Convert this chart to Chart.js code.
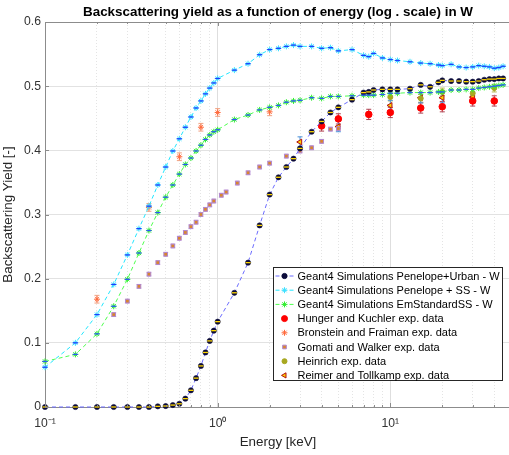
<!DOCTYPE html>
<html>
<head>
<meta charset="utf-8">
<script src="https://cdn.jsdelivr.net/npm/chart.js@4.4.1/dist/chart.umd.min.js"></script>
<style>
  html, body { margin: 0; padding: 0; background: #fff; overflow: hidden; }
  #wrap { width: 520px; height: 455px; }
</style>
</head>
<body>
<div id="wrap"><canvas id="yieldChart" width="520" height="455"></canvas></div>
<script>
// energies [keV] used by the three Geant4 simulations
const simEnergy = [0.1, 0.15, 0.2, 0.25, 0.3, 0.35, 0.4, 0.45, 0.5, 0.55, 0.6, 0.65, 0.7, 0.75, 0.8, 0.85, 0.9, 0.95, 1,
  1.25, 1.5, 1.75, 2, 2.25, 2.5, 2.75, 3, 3.5, 4, 4.5, 5, 6, 7, 7.5, 8, 9, 10,
  11, 13, 15, 17, 19, 20, 22.5, 25, 27.5, 30, 32.5, 35, 37.5, 40, 42.5, 45];

const penUrban = [0, 0, 0, 0, 0, 0, 0, 0.001, 0.0015, 0.003, 0.005, 0.013, 0.026, 0.045, 0.064, 0.085, 0.103, 0.119, 0.133,
  0.178, 0.225, 0.283, 0.331, 0.358, 0.374, 0.387, 0.403, 0.429, 0.445, 0.459, 0.467, 0.479, 0.490, 0.491, 0.494, 0.495, 0.495,
  0.495, 0.496, 0.502, 0.499, 0.506, 0.509, 0.508, 0.508, 0.507, 0.507, 0.508, 0.510, 0.511, 0.511, 0.512, 0.512];

const penSS = [0.062, 0.100, 0.144, 0.191, 0.237, 0.278, 0.313, 0.346, 0.374, 0.399, 0.418, 0.436, 0.452, 0.466, 0.477, 0.488, 0.497, 0.505, 0.512,
  0.525, 0.535, 0.549, 0.557, 0.559, 0.562, 0.564, 0.562, 0.562, 0.559, 0.560, 0.555, 0.557, 0.548, 0.546, 0.551, 0.544, 0.5415,
  0.540, 0.538, 0.536, 0.535, 0.533, 0.532, 0.534, 0.530, 0.529, 0.530, 0.532, 0.531, 0.530, 0.528, 0.529, 0.531];

const emStdSS = [0.071, 0.082, 0.114, 0.157, 0.199, 0.240, 0.275, 0.303, 0.327, 0.346, 0.363, 0.378, 0.388, 0.399, 0.408, 0.417, 0.424, 0.429, 0.432,
  0.448, 0.455, 0.463, 0.467, 0.470, 0.475, 0.477, 0.478, 0.482, 0.481, 0.484, 0.484, 0.485, 0.486, 0.486, 0.486, 0.487, 0.489,
  0.489, 0.490, 0.490, 0.490, 0.491, 0.491, 0.494, 0.494, 0.495, 0.495, 0.497, 0.498, 0.499, 0.500, 0.501, 0.502];

// experimental data
const hungerE = [4, 5, 7.5, 10, 15, 20, 30, 40];
const hungerY = [0.438, 0.449, 0.456, 0.459, 0.466, 0.468, 0.477, 0.477];
const hungerErr = [0.008, 0.008, 0.008, 0.008, 0.008, 0.008, 0.008, 0.008];

const bronsteinE = [0.2, 0.4, 0.6, 0.8, 1, 2];
const bronsteinY = [0.168, 0.311, 0.390, 0.436, 0.459, 0.460];
const bronsteinErr = [0.006, 0.006, 0.006, 0.006, 0.006, 0.006];

const gomatiE = [0.25, 0.3, 0.35, 0.4, 0.45, 0.5, 0.55, 0.6, 0.65, 0.7, 0.75, 0.8, 0.85, 0.9, 0.95,
  1.05, 1.12, 1.3, 1.5, 1.75, 2, 2.5, 3, 3.5, 4, 4.5, 5];
const gomatiY = [0.144, 0.165, 0.188, 0.207, 0.225, 0.238, 0.251, 0.263, 0.272, 0.281, 0.288, 0.300, 0.308, 0.315, 0.321,
  0.330, 0.335, 0.349, 0.365, 0.374, 0.380, 0.391, 0.399, 0.404, 0.414, 0.433, 0.434];
const gomatiErr = [0.003, 0.003, 0.003, 0.003, 0.003, 0.003, 0.003, 0.003, 0.003, 0.003, 0.003, 0.003, 0.003, 0.003, 0.003,
  0.003, 0.003, 0.003, 0.003, 0.003, 0.003, 0.003, 0.003, 0.003, 0.003, 0.003, 0.003];

const heinrichE = [10, 15, 20, 30, 40];
const heinrichY = [0.483, 0.481, 0.491, 0.489, 0.497];
const heinrichErr = [0.006, 0.006, 0.006, 0.006, 0.006];

const reimerE = [3, 5, 10, 15, 20, 30];
const reimerY = [0.413, 0.437, 0.470, 0.482, 0.482, 0.483];
const reimerErr = [0.008, 0.008, 0.008, 0.008, 0.008, 0.008];

// axis ticks
const xGridTicks = [0.1, 0.2, 0.3, 0.4, 0.5, 0.6, 0.7, 0.8, 0.9, 1, 2, 3, 4, 5, 6, 7, 8, 9, 10, 20, 30, 40, 50];
const xTickLabels = { 0.1: '10\u207B\u00B9', 1: '10\u2070', 10: '10\u00B9' };
const yTicks = [0, 0.1, 0.2, 0.3, 0.4, 0.5, 0.6];

const titleText = 'Backscattering yield as a function of energy (log . scale) in W';
const FONT = '"Liberation Sans", Arial, Helvetica, sans-serif';

function pairs(xs, ys) {
  return xs.map(function(x, i) { return { x: x, y: ys[i] }; });
}

function isDecade(v) {
  if (!v) return false;
  const l = Math.log10(v);
  return Math.abs(l - Math.round(l)) < 1e-6;
}

// error bars, point dashes, box, title and the in-plot legend
const overlayPlugin = {
  id: 'overlay',
  beforeDatasetsDraw(chart) {
    const ctx = chart.ctx;
    const xs = chart.scales.x, ys = chart.scales.y;
    chart.data.datasets.forEach(function(ds) {
      if (!ds.errors) return;
      ctx.save();
      ctx.strokeStyle = ds.errorColor;
      ctx.lineWidth = 1;
      ds.data.forEach(function(p, i) {
        const px = xs.getPixelForValue(p.x);
        const y1 = ys.getPixelForValue(p.y - ds.errors[i]);
        const y2 = ys.getPixelForValue(p.y + ds.errors[i]);
        ctx.beginPath();
        ctx.moveTo(px, y1); ctx.lineTo(px, y2);
        ctx.moveTo(px - 2.5, y1); ctx.lineTo(px + 2.5, y1);
        ctx.moveTo(px - 2.5, y2); ctx.lineTo(px + 2.5, y2);
        ctx.stroke();
      });
      ctx.restore();
    });
  },
  afterDatasetsDraw(chart) {
    const ctx = chart.ctx;
    const xs = chart.scales.x, ys = chart.scales.y;
    chart.data.datasets.forEach(function(ds) {
      if (!ds.dashColor) return;
      ctx.save();
      ctx.strokeStyle = ds.dashColor;
      ctx.lineWidth = 1.3;
      ds.data.forEach(function(p) {
        const px = xs.getPixelForValue(p.x), py = ys.getPixelForValue(p.y);
        ctx.beginPath();
        ctx.moveTo(px - 2.5, py); ctx.lineTo(px + 2.5, py);
        ctx.stroke();
      });
      ctx.restore();
    });
  },
  afterDraw(chart) {
    const ctx = chart.ctx;
    const area = chart.chartArea;
    const xs = chart.scales.x, ys = chart.scales.y;

    ctx.save();
    // top border and inward ticks
    ctx.strokeStyle = '#8c8c8c';
    ctx.lineWidth = 1;
    ctx.beginPath();
    ctx.moveTo(area.left, area.top + 0.5); ctx.lineTo(area.right, area.top + 0.5);
    yTicks.forEach(function(v) {
      const py = Math.round(ys.getPixelForValue(v)) + 0.5;
      ctx.moveTo(area.left, py); ctx.lineTo(area.left + 4, py);
    });
    xGridTicks.forEach(function(v) {
      const px = Math.round(xs.getPixelForValue(v)) + 0.5;
      const len = isDecade(v) ? 4 : 2;
      ctx.moveTo(px, area.bottom); ctx.lineTo(px, area.bottom - len);
      ctx.moveTo(px, area.top); ctx.lineTo(px, area.top + len);
    });
    ctx.stroke();

    // title
    ctx.fillStyle = '#000';
    ctx.font = 'bold 13.4px ' + FONT;
    ctx.textAlign = 'center';
    ctx.textBaseline = 'middle';
    ctx.fillText(titleText, (area.left + area.right) / 2, 12);

    // legend
    const bx = 273.5, by = 267.5, bw = 229, bh = 113;
    ctx.fillStyle = '#fff';
    ctx.fillRect(bx, by, bw, bh);
    ctx.strokeStyle = '#262626';
    ctx.lineWidth = 1;
    ctx.strokeRect(bx, by, bw, bh);
    ctx.font = '11px ' + FONT;
    ctx.textAlign = 'left';
    chart.data.datasets.forEach(function(ds, i) {
      const cy = by + 8.5 + i * 14.2;
      const mx = bx + 11;
      if (ds.showLine !== false) {
        ctx.save();
        ctx.strokeStyle = ds.borderColor;
        ctx.lineWidth = 1;
        ctx.setLineDash(ds.borderDash || []);
        ctx.beginPath();
        ctx.moveTo(bx + 2, cy); ctx.lineTo(bx + 20, cy);
        ctx.stroke();
        ctx.restore();
      }
      ctx.save();
      ctx.fillStyle = ds.pointBackgroundColor;
      ctx.strokeStyle = ds.pointBorderColor;
      Chart.helpers.drawPoint(ctx, {
        pointStyle: ds.pointStyle,
        radius: Math.min(ds.pointRadius, 3),
        rotation: ds.pointRotation || 0,
        borderWidth: ds.pointBorderWidth
      }, mx, cy);
      ctx.restore();
      ctx.fillStyle = '#000';
      ctx.fillText(ds.label, bx + 24, cy + 0.5);
    });
    ctx.restore();
  }
};

function createYieldChart() {
  const simStyle = {
    showLine: true,
    borderWidth: 1,
    borderDash: [4, 3],
    pointBorderWidth: 1,
    clip: false
  };
  const expStyle = {
    showLine: false,
    pointBorderWidth: 1,
    clip: false
  };

  const datasets = [
    Object.assign({}, simStyle, {
      label: 'Geant4 Simulations Penelope+Urban - W',
      data: pairs(simEnergy, penUrban),
      borderColor: '#6b6bff',
      pointStyle: 'circle',
      pointRadius: 2.6,
      pointBorderWidth: 0.6,
      pointBackgroundColor: '#0b0b3a',
      pointBorderColor: '#0b0b3a',
      dashColor: '#ffd800'
    }),
    Object.assign({}, simStyle, {
      label: 'Geant4 Simulations Penelope + SS - W',
      data: pairs(simEnergy, penSS),
      borderColor: '#22e6ff',
      pointStyle: 'star',
      pointRadius: 3,
      pointBackgroundColor: '#3ee0ff',
      pointBorderColor: '#3ee0ff',
      dashColor: '#1f3cff'
    }),
    Object.assign({}, simStyle, {
      label: 'Geant4 Simulations EmStandardSS - W',
      data: pairs(simEnergy, emStdSS),
      borderColor: '#4dff4d',
      pointStyle: 'star',
      pointRadius: 3,
      pointBackgroundColor: '#33ee33',
      pointBorderColor: '#33ee33',
      dashColor: '#2f55ff'
    }),
    Object.assign({}, expStyle, {
      label: 'Hunger and Kuchler exp. data',
      data: pairs(hungerE, hungerY),
      errors: hungerErr,
      errorColor: '#b04050',
      pointStyle: 'circle',
      pointRadius: 3.3,
      pointBackgroundColor: '#ff0000',
      pointBorderColor: '#ff0000'
    }),
    Object.assign({}, expStyle, {
      label: 'Bronstein and Fraiman exp. data',
      data: pairs(bronsteinE, bronsteinY),
      errors: bronsteinErr,
      errorColor: '#f0a080',
      pointStyle: 'star',
      pointRadius: 3,
      pointBackgroundColor: '#ff6a3d',
      pointBorderColor: '#ff6a3d'
    }),
    Object.assign({}, expStyle, {
      label: 'Gomati and Walker exp. data',
      data: pairs(gomatiE, gomatiY),
      errors: gomatiErr,
      errorColor: '#c8a0dc',
      pointStyle: 'rect',
      pointRadius: 2.6,
      pointBorderWidth: 1,
      pointBackgroundColor: '#d9852e',
      pointBorderColor: '#b088d0'
    }),
    Object.assign({}, expStyle, {
      label: 'Heinrich exp. data',
      data: pairs(heinrichE, heinrichY),
      errors: heinrichErr,
      errorColor: '#b8b850',
      pointStyle: 'circle',
      pointRadius: 2.5,
      pointBackgroundColor: '#a8a820',
      pointBorderColor: '#a8a820'
    }),
    Object.assign({}, expStyle, {
      label: 'Reimer and Tollkamp exp. data',
      data: pairs(reimerE, reimerY),
      errors: reimerErr,
      errorColor: '#4a90d8',
      pointStyle: 'triangle',
      pointRotation: -90,
      pointRadius: 3.3,
      pointBackgroundColor: '#ffd000',
      pointBorderColor: '#b01010'
    })
  ];

  const ctx = document.getElementById('yieldChart').getContext('2d');

  new Chart(ctx, {
    type: 'scatter',
    data: { datasets: datasets },
    plugins: [overlayPlugin],
    options: {
      responsive: false,
      animation: false,
      layout: { autoPadding: false, padding: { top: 22, right: 1, left: 0, bottom: 0 } },
      plugins: {
        legend: { display: false },
        title: { display: false },
        tooltip: { enabled: false }
      },
      elements: { line: { tension: 0 } },
      scales: {
        x: {
          type: 'logarithmic',
          min: 0.1,
          max: 50,
          afterBuildTicks: function(scale) {
            scale.ticks = xGridTicks.map(function(v) { return { value: v, major: isDecade(v) }; });
          },
          afterFit: function(scale) { scale.height = 48; },
          ticks: {
            autoSkip: false,
            maxRotation: 0,
            padding: 9,
            color: '#333',
            font: { family: FONT, size: 12.2 },
            callback: function(value) { return xTickLabels[value] || ''; }
          },
          grid: {
            drawTicks: false,
            color: function(c) { return c.tick && isDecade(c.tick.value) ? '#dedede' : '#e4e4e4'; }
          },
          border: {
            display: true,
            color: '#8c8c8c',
            dash: function(c) { return c.tick && !isDecade(c.tick.value) ? [1, 2] : []; }
          },
          title: {
            display: true,
            text: 'Energy [keV]',
            color: '#262626',
            font: { family: FONT, size: 13.4 },
            padding: { top: 0, bottom: 5 }
          }
        },
        y: {
          min: 0,
          max: 0.6,
          afterBuildTicks: function(scale) {
            scale.ticks = yTicks.map(function(v) { return { value: v }; });
          },
          afterFit: function(scale) { scale.width = 45; },
          ticks: {
            padding: 4,
            color: '#333',
            font: { family: FONT, size: 12.2 },
            callback: function(value) { return String(Math.round(value * 10) / 10); }
          },
          grid: { drawTicks: false, color: '#e2e2e2' },
          border: { display: true, color: '#8c8c8c' },
          title: {
            display: true,
            text: 'Backscattering Yield [-]',
            color: '#262626',
            font: { family: FONT, size: 13.4 },
            padding: { top: 0, bottom: 0 }
          }
        }
      }
    }
  });
}

document.addEventListener('DOMContentLoaded', function() {
  createYieldChart();
});
</script>
</body>
</html>
